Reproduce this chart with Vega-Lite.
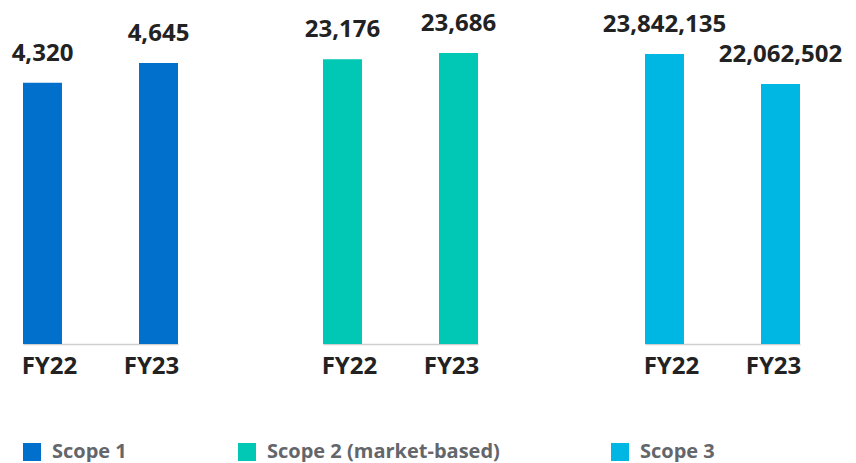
{
  "$schema": "https://vega.github.io/schema/vega-lite/v6.json",
  "padding": 0,
  "background": "white",
  "spacing": 0,
  "datasets": {
    "d": [
      {"scope": "Scope 1", "year": "FY22", "value": 4320},
      {"scope": "Scope 1", "year": "FY23", "value": 4645},
      {"scope": "Scope 2 (market-based)", "year": "FY22", "value": 23176},
      {"scope": "Scope 2 (market-based)", "year": "FY23", "value": 23686},
      {"scope": "Scope 3", "year": "FY22", "value": 23842135},
      {"scope": "Scope 3", "year": "FY23", "value": 22062502}
    ]
  },
  "hconcat": [
    {
      "width": 155, "height": 344,
      "data": {"name": "d"},
      "transform": [{"filter": "datum.scope == 'Scope 1'"}],
      "encoding": {
        "x": {"field": "year", "type": "nominal", "scale": {"paddingInner": 0.664, "paddingOuter": 0}},
        "y": {"field": "value", "type": "quantitative", "scale": {"domain": [0, 5686]}, "axis": {"minExtent": 23, "maxExtent": 23}}
      },
      "layer": [
        {"mark": {"type": "bar"}, "encoding": {"color": {"field": "scope", "type": "nominal", "scale": {"domain": ["Scope 1", "Scope 2 (market-based)", "Scope 3"], "range": ["#0070cc", "#00c8b4", "#00b6e3"]}}}},
        {"mark": {"type": "text", "dy": -22, "baseline": "alphabetic", "font": "Open Sans", "fontWeight": "bold", "fontSize": 24, "color": "#222222"}, "encoding": {"text": {"field": "value", "type": "quantitative", "format": ",d"}}}
      ]
    },
    {
      "width": 155, "height": 344,
      "data": {"name": "d"},
      "transform": [{"filter": "datum.scope == 'Scope 2 (market-based)'"}],
      "encoding": {
        "x": {"field": "year", "type": "nominal", "scale": {"paddingInner": 0.664, "paddingOuter": 0}},
        "y": {"field": "value", "type": "quantitative", "scale": {"domain": [0, 28000]}, "axis": {"minExtent": 133, "maxExtent": 133}}
      },
      "layer": [
        {"mark": {"type": "bar"}, "encoding": {"color": {"field": "scope", "type": "nominal", "scale": {"domain": ["Scope 1", "Scope 2 (market-based)", "Scope 3"], "range": ["#0070cc", "#00c8b4", "#00b6e3"]}}}},
        {"mark": {"type": "text", "dy": -22, "baseline": "alphabetic", "font": "Open Sans", "fontWeight": "bold", "fontSize": 24, "color": "#222222"}, "encoding": {"text": {"field": "value", "type": "quantitative", "format": ",d"}}}
      ]
    },
    {
      "width": 155, "height": 344,
      "data": {"name": "d"},
      "transform": [{"filter": "datum.scope == 'Scope 3'"}],
      "encoding": {
        "x": {"field": "year", "type": "nominal", "scale": {"paddingInner": 0.664, "paddingOuter": 0}},
        "y": {"field": "value", "type": "quantitative", "scale": {"domain": [6640000, 27050000], "zero": false, "clamp": true}, "axis": {"minExtent": 148, "maxExtent": 148}}
      },
      "layer": [
        {"mark": {"type": "bar"}, "encoding": {"color": {"field": "scope", "type": "nominal", "scale": {"domain": ["Scope 1", "Scope 2 (market-based)", "Scope 3"], "range": ["#0070cc", "#00c8b4", "#00b6e3"]}}}},
        {"mark": {"type": "text", "dy": -22, "baseline": "alphabetic", "font": "Open Sans", "fontWeight": "bold", "fontSize": 24, "color": "#222222"}, "encoding": {"text": {"field": "value", "type": "quantitative", "format": ",d"}}}
      ]
    }
  ],
  "resolve": {"scale": {"x": "independent", "y": "independent", "color": "shared"}, "legend": {"color": "shared"}},
  "config": {
    "view": {"stroke": null},
    "axisX": {
      "title": null, "ticks": false, "grid": false, "labelAngle": 0,
      "domainColor": "#d0d0d0", "domainWidth": 1.5,
      "labelFont": "Open Sans", "labelFontSize": 24, "labelFontWeight": "bold", "labelColor": "#222222",
      "labelPadding": 10,
      "labelOffset": {"condition": {"test": "datum.value == 'FY22'", "value": 7}, "value": -7}
    },
    "axisY": {"title": null, "labels": false, "ticks": false, "domain": false, "grid": false},
    "legend": {
      "orient": "none", "legendX": -1, "legendY": 442, "direction": "horizontal", "columns": 3,
      "columnPadding": 110, "title": null, "symbolType": "square", "symbolSize": 324, "symbolStrokeWidth": 0,
      "labelFont": "Open Sans", "labelFontSize": 20, "labelFontWeight": "bold", "labelColor": "#63666a",
      "labelLimit": 500, "labelOffset": 10
    }
  }
}
